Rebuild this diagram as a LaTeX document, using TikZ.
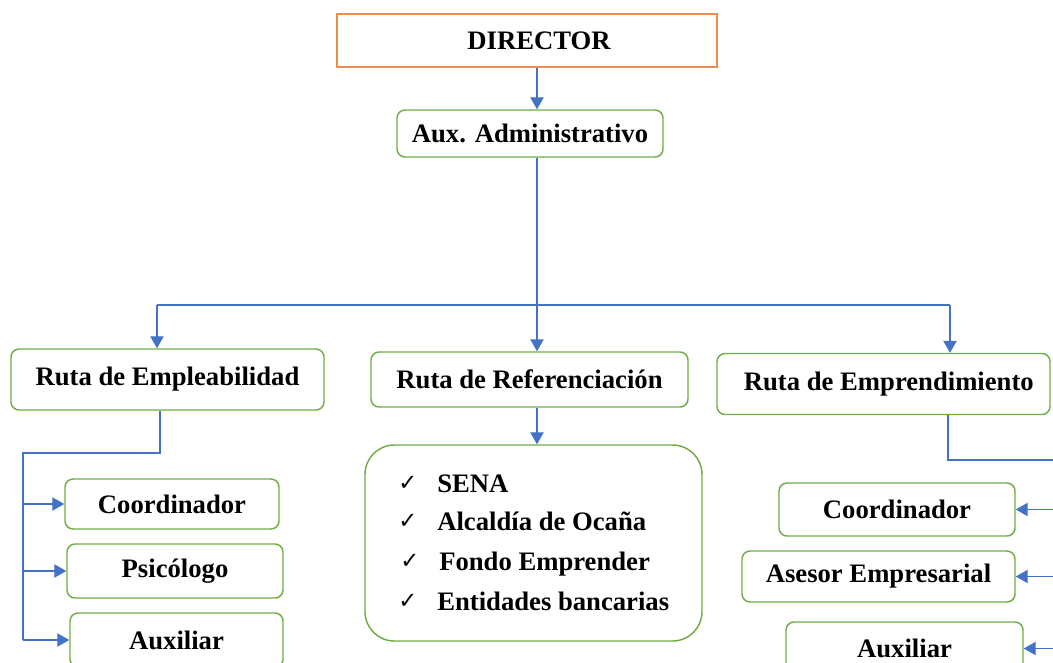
\documentclass[tikz,border=0pt]{standalone}
\usepackage{fontspec}
\setmainfont{Liberation Serif}
\newfontfamily\symfont{DejaVu Sans}
\usetikzlibrary{arrows.meta}
\definecolor{gr}{RGB}{112,173,71}
\definecolor{bl}{RGB}{68,114,196}
\definecolor{orng}{RGB}{240,140,80}
\begin{document}
\begin{tikzpicture}[x=0.75pt,y=-0.75pt,
  txt/.style={font=\fontsize{20}{23}\selectfont\bfseries,inner sep=0pt},
  box/.style={txt,draw=gr,line width=1.1pt,rounded corners=6pt},
  con/.style={draw=bl,line width=0.9pt},
  arr/.style={con,-{Triangle[length=9pt,width=10pt]}},
  item/.style={txt,anchor=base west},
  chk/.style={font=\symfont\fontsize{17}{19}\selectfont,inner sep=0pt,anchor=base west},
]
\useasboundingbox (0,0) rectangle (1053,662);
\clip (0,0) rectangle (1053,662);

% nodes
\node[txt,draw=orng,line width=1.1pt,minimum width=380*0.75pt,minimum height=53*0.75pt] (dir) at (527,40.5) {\hspace{18pt}DIRECTOR};
\node[box,minimum width=266*0.75pt,minimum height=47*0.75pt] (aux) at (530,133.5) {Aux. Administrativo};
\node[box,minimum width=313*0.75pt,minimum height=61*0.75pt] (empl) at (167.5,379.5) {Ruta de Empleabilidad};
\node[box,minimum width=317*0.75pt,minimum height=55*0.75pt] (ref) at (529.5,379.5) {Ruta de Referenciación};
\node[box,minimum width=333*0.75pt,minimum height=61*0.75pt] (empr) at (883.5,384) {\hspace{8pt}Ruta de Emprendimiento};
\node[box,rounded corners=22pt,minimum width=337*0.75pt,minimum height=196*0.75pt] (list) at (533.5,543) {};

\node[chk] (k1) at (398,490) {✓};
\node[item] (t1) at (437,492) {SENA};
\node[chk] (k2) at (398,528) {✓};
\node[item] (t2) at (437,530) {Alcaldía de Ocaña};
\node[chk] (k3) at (400,568) {✓};
\node[item] (t3) at (439,570) {Fondo Emprender};
\node[chk] (k4) at (398,608) {✓};
\node[item] (t4) at (437,610) {Entidades bancarias};

\node[box,minimum width=214*0.75pt,minimum height=50*0.75pt] (lc) at (172,504) {Coordinador};
\node[box,minimum width=216*0.75pt,minimum height=54*0.75pt] (lp) at (175,571) {Psicólogo};
\node[box,minimum width=213*0.75pt,minimum height=54*0.75pt] (la) at (176.5,640) {Auxiliar};

\node[box,minimum width=236*0.75pt,minimum height=53*0.75pt] (rc) at (897,509.5) {Coordinador};
\node[box,minimum width=273*0.75pt,minimum height=51*0.75pt] (ra) at (878.5,576.5) {Asesor Empresarial};
\node[box,minimum width=237*0.75pt,minimum height=53*0.75pt] (rx3) at (904.5,648.5) {Auxiliar};

% coordinates
\coordinate (c1) at (537,0);
\coordinate (hl) at (157,305);
\coordinate (hr) at (950,305);
\coordinate (lb) at (160,453);
\coordinate (lx) at (23,453);
\coordinate (lend) at (23,640);
\coordinate (rb) at (948,460);
\coordinate (rx) at (1065,460);
\coordinate (rend) at (1065,660);

% connectors
\draw[arr] (dir.south -| c1) -- (aux.north -| c1);
\draw[arr] (aux.south -| c1) -- (ref.north -| c1);
\draw[con] (hl) -- (hr);
\draw[arr] (hl) -- (empl.north -| hl);
\draw[arr] (hr) -- (empr.north -| hr);
\draw[arr] (ref.south -| c1) -- (list.north -| c1);

\draw[con] (empl.south -| lb) -- (lb) -- (lx) -- (lend);
\draw[arr] (lx |- lc.west) -- (lc.west);
\draw[arr] (lx |- lp.west) -- (lp.west);
\draw[arr] (lend) -- (lend -| la.west);

\draw[con] (empr.south -| rb) -- (rb) -- (rx) -- (rend);
\draw[arr] (rx |- rc.east) -- (rc.east);
\draw[arr] (rx |- ra.east) -- (ra.east);
\draw[arr] (rx |- rx3.east) -- (rx3.east);
\end{tikzpicture}
\end{document}
